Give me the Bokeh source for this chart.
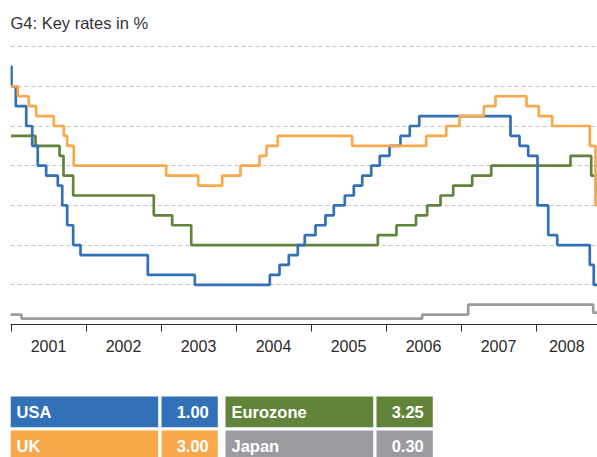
from bokeh.plotting import figure
from bokeh.models import Range1d, FixedTicker, LinearAxis, Grid
from bokeh.layouts import column
from bokeh.embed import file_html
from bokeh.resources import INLINE
from bokeh.core.properties import value

# ---------------- data (decimal years, % rates) ----------------
years = [2001, 2002, 2003, 2004, 2005, 2006, 2007, 2008]
year_label_pos = [2001.5, 2002.5, 2003.5, 2004.5, 2005.5, 2006.5, 2007.5, 2008.41]
grid_levels = [1, 2, 3, 4, 5, 6, 7]

usa_x = [2001.0, 2001.007, 2001.064, 2001.203, 2001.283, 2001.357, 2001.469, 2001.624,
         2001.683, 2001.749, 2001.829, 2001.927, 2002.824, 2003.451, 2004.451, 2004.58,
         2004.704, 2004.824, 2004.917, 2005.06, 2005.193, 2005.304, 2005.451, 2005.571,
         2005.683, 2005.803, 2005.917, 2006.047, 2006.193, 2006.317, 2006.443, 2007.66,
         2007.78, 2007.896, 2008.02, 2008.163, 2008.283, 2008.717, 2008.77]
usa_y = [6.5, 6.0, 5.5, 5.0, 4.5, 4.0, 3.75, 3.5,
         3.0, 2.5, 2.0, 1.75, 1.25, 1.0, 1.25, 1.5,
         1.75, 2.0, 2.25, 2.5, 2.75, 3.0, 3.25, 3.5,
         3.75, 4.0, 4.25, 4.5, 4.75, 5.0, 5.25, 4.75,
         4.5, 4.25, 3.0, 2.25, 2.0, 1.5, 1.0]

uk_x = [2001.0, 2001.091, 2001.237, 2001.336, 2001.571, 2001.704, 2001.749, 2001.837,
        2003.069, 2003.496, 2003.816, 2004.06, 2004.313, 2004.407, 2004.557, 2005.549,
        2006.536, 2006.803, 2006.98, 2007.304, 2007.46, 2007.873, 2008.037, 2008.216,
        2008.717, 2008.793]
uk_y = [6.0, 5.75, 5.5, 5.25, 5.0, 4.75, 4.5, 4.0,
        3.75, 3.5, 3.75, 4.0, 4.25, 4.5, 4.75, 4.5,
        4.75, 5.0, 5.25, 5.5, 5.75, 5.5, 5.25, 5.0,
        4.5, 3.0]

ez_x = [2001.0, 2001.327, 2001.647, 2001.7, 2001.829, 2002.904, 2003.149, 2003.403,
        2005.891, 2006.14, 2006.40, 2006.549, 2006.727, 2006.896, 2007.149, 2007.403,
        2008.46, 2008.736, 2008.813]
ez_y = [4.75, 4.5, 4.25, 3.75, 3.25, 2.75, 2.5, 2.0,
        2.25, 2.5, 2.75, 3.0, 3.25, 3.5, 3.75, 4.0,
        4.25, 3.75, 3.25]

jp_x = [2000.99, 2001.14, 2006.483, 2007.096, 2008.763]
jp_y = [0.25, 0.15, 0.25, 0.5, 0.3]

names = ["USA", "UK", "Eurozone", "Japan"]
latest = ["1.00", "3.00", "3.25", "0.30"]
colors = ["#3270B8", "#F9A84B", "#62833A", "#9B9B9F"]

# ---------------- layout constants ----------------
W = 597
CHART_H = 380
LEG_H = 77
LEFT = 10
PX_PER_YEAR = 75.0
X_START = 2001 - 0.5 / PX_PER_YEAR
X_END = X_START + (W - LEFT) / PX_PER_YEAR
FONT = "Liberation Sans"
TXT = "#2b2b2b"

p = figure(width=W, height=CHART_H, output_backend="svg", toolbar_location=None,
           x_range=Range1d(X_START, X_END), y_range=Range1d(0, 282 / 39.7),
           min_border_left=LEFT, min_border_right=0, min_border_top=42, min_border_bottom=56,
           x_axis_type=None, y_axis_type=None)
p.outline_line_color = None
p.background_fill_color = "white"
p.border_fill_color = "white"

p.title.text = "G4: Key rates in %"
p.title.text_font = FONT
p.title.text_font_size = "16.5px"
p.title.text_font_style = "normal"
p.title.text_color = "#333333"
p.title.align = "left"
p.title.standoff = 22

grid = Grid(dimension=1, ticker=FixedTicker(ticks=grid_levels))
grid.grid_line_color = "#c4c4c4"
grid.grid_line_dash = "4 3"
grid.grid_line_width = 1
p.add_layout(grid)

xaxis = LinearAxis(ticker=FixedTicker(ticks=year_label_pos, minor_ticks=years))
xaxis.major_label_overrides = {pos: str(y) for pos, y in zip(year_label_pos, years)}
xaxis.major_tick_in = 0
xaxis.major_tick_out = 0
xaxis.major_tick_line_color = None
xaxis.minor_tick_in = 0
xaxis.minor_tick_out = 7
xaxis.minor_tick_line_color = TXT
xaxis.minor_tick_line_width = 1
xaxis.axis_line_color = TXT
xaxis.axis_line_width = 1
xaxis.major_label_text_font = FONT
xaxis.major_label_text_font_size = "16px"
xaxis.major_label_text_color = TXT
xaxis.major_label_standoff = 8
p.add_layout(xaxis, "below")

for xs, ys, c in [(jp_x, jp_y, colors[3]), (ez_x, ez_y, colors[2]),
                  (usa_x, usa_y, colors[0]), (uk_x, uk_y, colors[1])]:
    p.step(x=xs + [X_END], y=ys + [ys[-1]], mode="after",
           line_color=c, line_width=2.7)

# ---------------- legend figure (coordinates = page pixels) ----------------
lg = figure(width=W, height=LEG_H, output_backend="svg", toolbar_location=None,
            x_range=Range1d(LEFT, W), y_range=Range1d(LEG_H, 0),
            min_border_left=LEFT, min_border_right=0, min_border_top=0, min_border_bottom=0,
            x_axis_type=None, y_axis_type=None)
lg.outline_line_color = None
lg.xgrid.visible = False
lg.ygrid.visible = False

name_w, val_w, gap_in, gap_col = 147.7, 56.3, 3.3, 7.7
row_tops = [16, 50]
row_h = 30.7
col_lefts = [LEFT, LEFT + name_w + gap_in + val_w + gap_col]

lefts_n, rights_n, lefts_v, rights_v, tops, bottoms = [], [], [], [], [], []
for i in range(len(names)):
    col, row = i // 2, i % 2
    l = col_lefts[col]
    lefts_n.append(l)
    rights_n.append(l + name_w)
    lefts_v.append(l + name_w + gap_in)
    rights_v.append(l + name_w + gap_in + val_w)
    tops.append(row_tops[row])
    bottoms.append(row_tops[row] + row_h)

lg.quad(left=lefts_n, right=rights_n, top=tops, bottom=bottoms,
        fill_color=colors, line_color=None)
lg.quad(left=lefts_v, right=rights_v, top=tops, bottom=bottoms,
        fill_color=colors, line_color=None)
mid = [t + 15 for t in tops]
lg.text(x=[l + 6 for l in lefts_n], y=mid, text=names,
        text_font=value(FONT), text_font_size="16.5px", text_font_style="bold",
        text_color="white", text_baseline="middle", text_align="left")
lg.text(x=[r - 9 for r in rights_v], y=mid, text=latest,
        text_font=value(FONT), text_font_size="16.5px", text_font_style="bold",
        text_color="white", text_baseline="middle", text_align="right")

layout = column(p, lg, spacing=0)
open("out.html", "w").write(file_html(layout, INLINE))
